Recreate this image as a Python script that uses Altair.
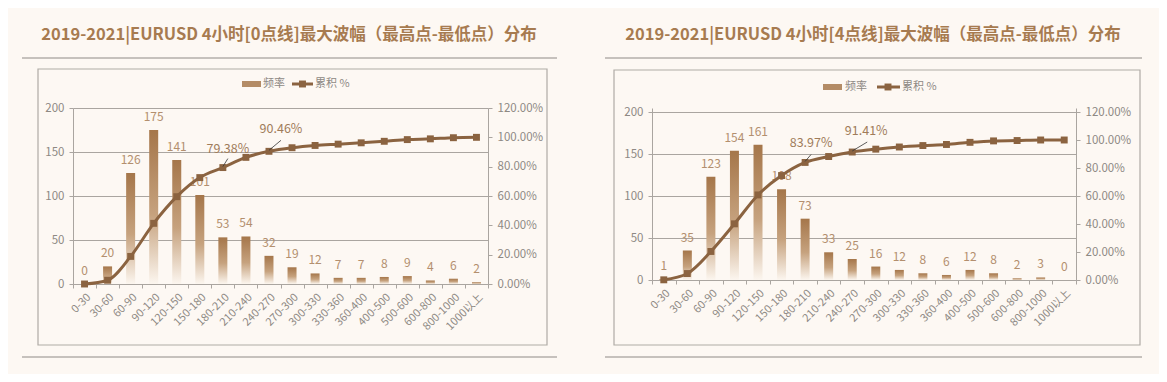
import altair as alt
import pandas as pd

categories = ["0-30", "30-60", "60-90", "90-120", "120-150", "150-180", "180-210",
              "210-240", "240-270", "270-300", "300-330", "330-360", "360-400",
              "400-500", "500-600", "600-800", "800-1000", "1000以上"]
counts_0 = [0, 20, 126, 175, 141, 101, 53, 54, 32, 19, 12, 7, 7, 8, 9, 4, 6, 2]
counts_4 = [1, 35, 123, 154, 161, 108, 73, 33, 25, 16, 12, 8, 6, 12, 8, 2, 3, 0]
titles = ["2019-2021|EURUSD 4小时[0点线]最大波幅（最高点-最低点）分布",
          "2019-2021|EURUSD 4小时[4点线]最大波幅（最高点-最低点）分布"]
labelled = ["180-210", "240-270"]
legend_names = ["频率", "累积 %"]
left_ticks = [0, 50, 100, 150, 200]
right_ticks = [0, 0.2, 0.4, 0.6, 0.8, 1.0, 1.2]

FONT = "Noto Sans CJK SC"
BG = "#fdf8f3"
LINE = "#8b6340"
GRID = "#aaa5a0"
AXIS_TXT = "#8e8984"
BAR_TXT = "#b38f6e"
LINE_TXT = "#a07c5a"
TITLE = "#a77b50"

grad = alt.LinearGradient(
    gradient="linear",
    stops=[alt.GradientStop(color="#a5764a", offset=0),
           alt.GradientStop(color="#c6a27e", offset=0.55),
           alt.GradientStop(color="#fcf6ef", offset=1)],
    x1=0, x2=0, y1=0, y2=1)


def one(v):
    return alt.value(v)


def panel(counts, title, g):
    total = sum(counts)
    df = pd.DataFrame({"cat": categories, "count": counts})
    df["cum"] = df["count"].cumsum() / total
    stretch = g["stretch"]  # extra headroom above the top tick (plot rows are aligned)

    x = alt.X("cat:N", sort=categories, scale=alt.Scale(paddingInner=0, paddingOuter=0),
              axis=alt.Axis(title=None, labelAngle=-45, tickBand="extent", domainColor=GRID,
                            tickColor=GRID, tickSize=4, labelColor=AXIS_TXT, labelFont=FONT,
                            labelFontSize=11, labelPadding=3))
    yl_axis = alt.Axis(title=None, values=left_ticks, grid=True, gridColor=GRID, domainColor=GRID,
                       tickColor=GRID, tickSize=4, labelColor=AXIS_TXT, labelFont=FONT,
                       labelFontSize=11.5, labelPadding=5)
    yr_axis = alt.Axis(title=None, orient="right", values=right_ticks, format=".2%", grid=False,
                       domainColor=GRID, tickColor=GRID, tickSize=4, labelColor=AXIS_TXT,
                       labelFont=FONT, labelFontSize=11.5, labelPadding=5)
    yl = alt.Y("count:Q", scale=alt.Scale(domain=[0, 200 * stretch]), axis=yl_axis)
    yr = alt.Y("cum:Q", scale=alt.Scale(domain=[0, 1.2 * stretch]), axis=yr_axis)

    base = alt.Chart(df)
    bars = base.mark_bar(color=grad, size=9).encode(x=x, y=yl)
    bar_txt = base.mark_text(font=FONT, fontSize=12, color=BAR_TXT, baseline="bottom", dy=-6).encode(
        x=x, y=yl, text="count:Q")
    left_group = alt.layer(bars, bar_txt)

    line = base.mark_line(color=LINE, strokeWidth=3, interpolate="monotone").encode(x=x, y=yr)
    pts = base.mark_point(shape="square", filled=True, size=48, opacity=1, color=LINE).encode(x=x, y=yr)
    layers = [line, pts]
    for cat, (tdx, tdy, rdx, rdy) in zip(labelled, g["lab"]):
        sub = base.transform_filter(alt.datum.cat == cat)
        layers.append(sub.mark_rule(color="#333333", strokeWidth=0.8, x2Offset=rdx, y2Offset=rdy,
                                    yOffset=-1).encode(
            x=alt.X("cat:N", sort=categories, bandPosition=0.5),
            x2=alt.X2("cat", bandPosition=0.5), y=yr, y2=alt.Y2("cum")))
        layers.append(sub.mark_text(font=FONT, fontSize=12.5, color=LINE_TXT, dx=tdx, dy=tdy,
                                    baseline="middle").encode(
            x=x, y=yr, text=alt.Text("cum:Q", format=".2%")))
    right_group = alt.layer(*layers)

    d = alt.Chart(pd.DataFrame({"k": [0]}))
    px1, px2, py1, py2 = g["panel"]
    bgrect = d.mark_rect(fill=BG, opacity=0).encode(x=one(px1), x2=one(px2), y=one(py1), y2=one(py2))
    bx1, bx2, by1, by2 = g["box"]
    box = d.mark_rect(fillOpacity=0, fill=BG, stroke="#b0aba6", strokeWidth=1.2).encode(
        x=one(bx1), x2=one(bx2), y=one(by1), y2=one(by2))
    lx1, lx2 = g["hline"]
    top_line = d.mark_rule(color="#8f8a86", strokeWidth=1).encode(
        x=one(lx1), x2=one(lx2), y=one(g["top_y"]))
    bot_line = d.mark_rule(color="#8f8a86", strokeWidth=1).encode(
        x=one(lx1), x2=one(lx2), y=one(g["bot_y"]))
    ttl = d.mark_text(font=FONT, fontSize=16.5, fontWeight="bold", color=TITLE, align="center",
                      baseline="middle").encode(x=one(g["title"][0]), y=one(g["title"][1]),
                                                text=alt.value(title))
    ly = g["leg_y"]
    sw = d.mark_rect(color="#b48c66").encode(x=one(g["sw"][0]), x2=one(g["sw"][1]),
                                             y=one(ly - 3), y2=one(ly + 3))
    t1 = d.mark_text(font=FONT, fontSize=11, color=AXIS_TXT, align="left", baseline="middle").encode(
        x=one(g["t1"]), y=one(ly), text=alt.value(legend_names[0]))
    lsym = d.mark_rule(color=LINE, strokeWidth=3).encode(x=one(g["ls"][0]), x2=one(g["ls"][1]),
                                                        y=one(ly))
    lsq = d.mark_point(shape="square", filled=True, size=48, opacity=1, color=LINE).encode(
        x=one(g["sq"]), y=one(ly))
    t2 = d.mark_text(font=FONT, fontSize=11, color=AXIS_TXT, align="left", baseline="middle").encode(
        x=one(g["t2"]), y=one(ly), text=alt.value(legend_names[1]))

    return alt.layer(bgrect, box, top_line, bot_line, ttl, sw, t1, lsym, lsq, t2,
                     left_group, right_group).resolve_scale(y="independent").properties(
        width=g["w"], height=g["h"])


g0 = dict(w=415, h=176, stretch=1.0, panel=(-65, 510, -100, 266), title=(216, -73), top_y=-50,
          bot_y=249, hline=(-51, 484), box=(-35, 474, -39, 237), leg_y=-24, sw=(169, 188), t1=190,
          ls=(219, 240), sq=229.5, t2=242, lab=[(5, -19, 5, -9), (12, -22, 12, -11)])
g4 = dict(w=424, h=172, stretch=172 / 168, panel=(-69, 507, -100, 266), title=(221, -73), top_y=-50,
          bot_y=249, hline=(-47, 490), box=(-38, 488, -38, 237), leg_y=-21, sw=(171, 190), t1=193,
          ls=(225, 248), sq=236, t2=250, lab=[(6, -19, 6, -8), (14, -21, 15, -10)])

chart = alt.hconcat(panel(counts_0, titles[0], g0), panel(counts_4, titles[1], g4),
                    spacing=0).configure(padding=0, background=BG).configure_view(stroke=None)

chart.save("out.html", embed_options={"renderer": "svg", "actions": False})
